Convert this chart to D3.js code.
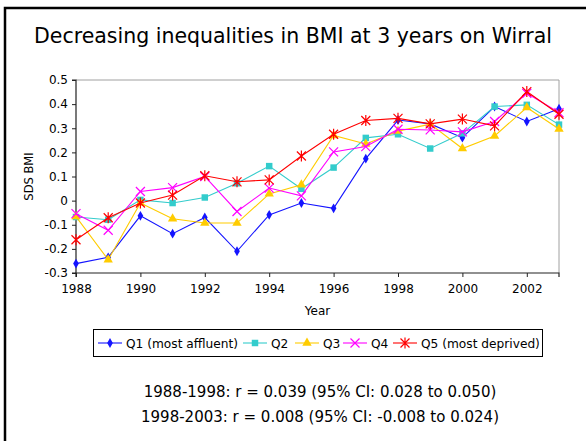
<!DOCTYPE html>
<html>
<head>
<meta charset="utf-8">
<script src="https://cdn.jsdelivr.net/npm/d3@7"></script>
<style>
  body { margin: 0; background: #fff; }
  text { font-family: "DejaVu Sans", Verdana, sans-serif; fill: #000; }
</style>
</head>
<body>
<div id="chart"></div>
<script>
// BMI SDS by deprivation quintile, Wirral 1988-2003
const years = d3.range(1988, 2004);
const q1 = [-0.261, -0.235, -0.063, -0.137, -0.070, -0.210, -0.059, -0.010, -0.032, 0.174, 0.334, 0.318, 0.261, 0.390, 0.328, 0.381];
const q2 = [-0.068, -0.079, 0.003, -0.010, 0.013, 0.072, 0.143, 0.049, 0.137, 0.260, 0.275, 0.216, 0.279, 0.390, 0.397, 0.315];
const q3 = [-0.066, -0.245, -0.010, -0.075, -0.093, -0.093, 0.028, 0.066, 0.270, 0.235, 0.288, 0.317, 0.216, 0.268, 0.386, 0.297];
const q4 = [-0.054, -0.123, 0.038, 0.054, 0.100, -0.045, 0.052, 0.020, 0.202, 0.224, 0.296, 0.293, 0.285, 0.328, 0.445, 0.365];
const q5 = [-0.162, -0.071, -0.010, 0.023, 0.103, 0.078, 0.086, 0.185, 0.275, 0.332, 0.341, 0.318, 0.338, 0.310, 0.452, 0.358];
const seriesNames = ['Q1 (most affluent)', 'Q2', 'Q3', 'Q4', 'Q5 (most deprived)'];
const yTicks = [-0.3, -0.2, -0.1, 0, 0.1, 0.2, 0.3, 0.4, 0.5];
const xTicks = [1988, 1990, 1992, 1994, 1996, 1998, 2000, 2002];
const statLines = [
    '1988-1998: r = 0.039 (95% CI: 0.028 to 0.050)',
    '1998-2003: r = 0.008 (95% CI: -0.008 to 0.024)'
];

const series = [
    { name: seriesNames[0], values: q1, color: '#1414ff', marker: 'diamond' },
    { name: seriesNames[1], values: q2, color: '#33cccc', marker: 'square' },
    { name: seriesNames[2], values: q3, color: '#ffcc00', marker: 'triangle' },
    { name: seriesNames[3], values: q4, color: '#ff00ff', marker: 'x' },
    { name: seriesNames[4], values: q5, color: '#ff0000', marker: 'star' }
];

const width = 586, height = 441;
const plot = { left: 76, right: 559, top: 80, bottom: 273 };

const svg = d3.select('#chart').append('svg')
    .attr('width', width)
    .attr('height', height);

// Slide frame
svg.append('rect')
    .attr('x', 5).attr('y', 8)
    .attr('width', 620).attr('height', 500)
    .attr('fill', 'none')
    .attr('stroke', '#000')
    .attr('stroke-width', 2.5);

// Title
svg.append('text')
    .attr('x', 293).attr('y', 43)
    .attr('text-anchor', 'middle')
    .style('font-size', '20.5px')
    .text('Decreasing inequalities in BMI at 3 years on Wirral');

const x = d3.scaleLinear().domain([1988, 2003]).range([plot.left, plot.right]);
const y = d3.scaleLinear().domain([-0.3, 0.5]).range([plot.bottom, plot.top]);

// Plot area border (top + right)
svg.append('path')
    .attr('d', `M${plot.left},${plot.top}H${plot.right}V${plot.bottom}`)
    .attr('fill', 'none')
    .attr('stroke', '#a0a0a0')
    .attr('stroke-width', 1);

// Axes
const yAxis = svg.append('g')
    .attr('transform', `translate(${plot.left},0)`)
    .call(d3.axisLeft(y).tickValues(yTicks).tickSize(4).tickPadding(4)
        .tickFormat(d => d === 0 ? '0' : d.toFixed(1)));

const xAxis = svg.append('g')
    .attr('transform', `translate(0,${plot.bottom})`)
    .call(d3.axisBottom(x).tickValues(xTicks).tickSize(4).tickPadding(7)
        .tickFormat(d3.format('d')));

[yAxis, xAxis].forEach(ax => {
    ax.select('.domain').attr('stroke', '#222').attr('stroke-width', 1.2);
    ax.selectAll('.tick line').attr('stroke', '#222');
    ax.selectAll('.tick text').style('font-size', '12px').style('fill', '#000')
        .style('font-family', '"DejaVu Sans", Verdana, sans-serif');
});
yAxis.select('.domain').attr('d', `M-4,${plot.top}H0V${plot.bottom}H-4`);
xAxis.select('.domain').attr('d', `M${plot.left},4V0H${plot.right}V4`);

// Axis titles
svg.append('text')
    .attr('transform', `translate(33,${(plot.top + plot.bottom) / 2}) rotate(-90)`)
    .attr('text-anchor', 'middle')
    .style('font-size', '11.5px')
    .text('SDS BMI');

svg.append('text')
    .attr('x', (plot.left + plot.right) / 2).attr('y', 315)
    .attr('text-anchor', 'middle')
    .style('font-size', '12px')
    .text('Year');

// Marker drawing
function drawMarker(g, type, color) {
    if (type === 'diamond') {
        g.append('path').attr('d', d3.symbol(d3.symbolDiamond, 28)()).attr('fill', color);
    } else if (type === 'square') {
        g.append('path').attr('d', d3.symbol(d3.symbolSquare, 42)()).attr('fill', color);
    } else if (type === 'triangle') {
        g.append('path').attr('d', d3.symbol(d3.symbolTriangle, 38)()).attr('fill', color);
    } else if (type === 'x') {
        g.append('path').attr('d', 'M-4.5,-4.5L4.5,4.5M-4.5,4.5L4.5,-4.5')
            .attr('stroke', color).attr('stroke-width', 1.2).attr('fill', 'none');
    } else if (type === 'star') {
        g.append('path').attr('d', 'M-4.5,-4.5L4.5,4.5M-4.5,4.5L4.5,-4.5M0,-5.5V5.5')
            .attr('stroke', color).attr('stroke-width', 1.2).attr('fill', 'none');
    }
}

const line = d3.line()
    .x((d, i) => x(years[i]))
    .y(d => y(d));

series.forEach(s => {
    const g = svg.append('g');
    g.append('path')
        .datum(s.values)
        .attr('d', line)
        .attr('fill', 'none')
        .attr('stroke', s.color)
        .attr('stroke-width', 1.1);
    s.values.forEach((v, i) => {
        const m = g.append('g').attr('transform', `translate(${x(years[i])},${y(v)})`);
        drawMarker(m, s.marker, s.color);
    });
});

// Legend
const legend = svg.append('g');
legend.append('rect')
    .attr('x', 93.5).attr('y', 329.5)
    .attr('width', 449).attr('height', 27)
    .attr('fill', '#fff')
    .attr('stroke', '#000')
    .attr('stroke-width', 1);

const legendX = [98, 243, 295, 343, 393];
series.forEach((s, i) => {
    const lg = legend.append('g').attr('transform', `translate(${legendX[i]},343)`);
    lg.append('line').attr('x1', 0).attr('x2', 24)
        .attr('stroke', s.color).attr('stroke-width', 1.1);
    drawMarker(lg.append('g').attr('transform', 'translate(12,0)'), s.marker, s.color);
    lg.append('text')
        .attr('x', 28).attr('y', 4.5)
        .style('font-size', '12.2px')
        .text(s.name);
});

// Correlation statistics
statLines.forEach((t, i) => {
    svg.append('text')
        .attr('x', 320).attr('y', 397 + i * 25)
        .attr('text-anchor', 'middle')
        .style('font-size', '15px')
        .text(t);
});
</script>
</body>
</html>
